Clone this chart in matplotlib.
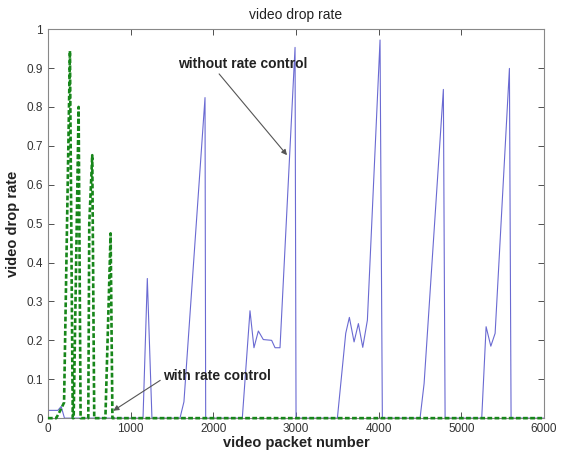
import matplotlib
matplotlib.use('Agg')
import matplotlib.pyplot as plt

plt.rcParams['font.family'] = ['Liberation Sans', 'DejaVu Sans']

# without rate control (blue, thin solid)
x_without = [0, 120, 160, 200, 1150, 1202, 1258, 1597, 1645, 1900, 1908,
             2351, 2444, 2492, 2545, 2605, 2706, 2747, 2807, 2989, 3001,
             3501, 3602, 3646, 3703, 3755, 3808, 3864, 4017, 4045,
             4501, 4550, 4783, 4804, 5247, 5300, 5357, 5409, 5582, 5602, 6000]
y_without = [0.02, 0.02, 0.03, 0.0, 0.0, 0.359, 0.0, 0.0, 0.042, 0.824, 0.0,
             0.0, 0.276, 0.181, 0.224, 0.202, 0.200, 0.181, 0.181, 0.953, 0.0,
             0.0, 0.218, 0.259, 0.196, 0.243, 0.182, 0.252, 0.972, 0.0,
             0.0, 0.089, 0.845, 0.0, 0.0, 0.235, 0.185, 0.218, 0.899, 0.0, 0.0]

# with rate control (green, thick dashed)
x_with = [0, 100, 150, 195, 266, 300, 311, 371, 395, 488, 500, 536, 560,
          695, 758, 780, 6000]
y_with = [0.0, 0.0, 0.02, 0.04, 0.944, 0.0, 0.0, 0.80, 0.0, 0.0, 0.50, 0.676, 0.0,
          0.0, 0.475, 0.0, 0.0]

x_ticks = [0, 1000, 2000, 3000, 4000, 5000, 6000]
y_ticks = [0, 0.1, 0.2, 0.3, 0.4, 0.5, 0.6, 0.7, 0.8, 0.9, 1.0]
y_tick_labels = ['0', '0.1', '0.2', '0.3', '0.4', '0.5', '0.6', '0.7', '0.8', '0.9', '1']

fig = plt.figure(figsize=(5.64, 4.55), dpi=100)
ax = fig.add_axes([0.085, 0.081, 0.8795, 0.855])

ax.plot(x_without, y_without, color='#6a6ad2', linewidth=0.8)
ax.plot(x_with, y_with, color='#17861a', linewidth=1.9,
        linestyle=(0, (1.8, 0.9)), clip_on=False, zorder=3)

ax.set_xlim(0, 6000)
ax.set_ylim(0, 1)
ax.set_xticks(x_ticks)
ax.set_xticklabels([str(t) for t in x_ticks])
ax.set_yticks(y_ticks)
ax.set_yticklabels(y_tick_labels)
ax.tick_params(direction='in', top=True, right=True, length=4,
               labelsize=8.5, colors='#333333', width=0.6)
for sp in ax.spines.values():
    sp.set_color('#888888')
    sp.set_linewidth(0.8)

ax.set_title('video drop rate', fontsize=10, color='#222222', pad=7)
ax.set_xlabel('video packet number', fontsize=10.5, fontweight='bold',
              color='#222222', labelpad=1)
ax.set_ylabel('video drop rate', fontsize=10.5, fontweight='bold',
              color='#222222', labelpad=5)

ax.annotate('without rate control', xy=(2892, 0.676), xytext=(1573, 0.910),
            fontsize=10, fontweight='bold', color='#222222',
            ha='left', va='center',
            arrowprops=dict(arrowstyle='-|>', color='#555555', lw=0.8,
                            mutation_scale=8, relpos=(0.3, 0.0),
                            shrinkA=0, shrinkB=0))
ax.annotate('with rate control', xy=(790, 0.019), xytext=(1392, 0.109),
            fontsize=10, fontweight='bold', color='#222222',
            ha='left', va='center',
            arrowprops=dict(arrowstyle='-|>', color='#555555', lw=0.8,
                            mutation_scale=8, relpos=(0.0, 0.3),
                            shrinkA=0, shrinkB=0))

plt.savefig('out.png', dpi=100)
